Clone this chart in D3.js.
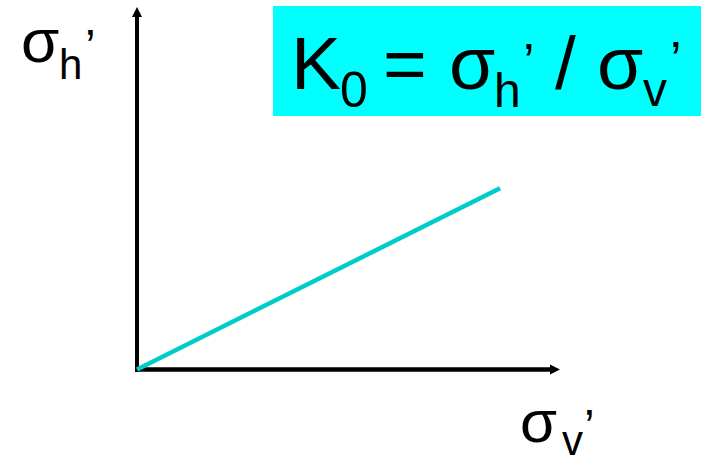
<!DOCTYPE html>
<html>
<head>
<meta charset="utf-8">
<script src="https://cdn.jsdelivr.net/npm/d3@7"></script>
<style>
    body { margin: 0; background: white; }
    text { font-family: "Liberation Sans", Arial, sans-serif; fill: black; }
</style>
</head>
<body>
<div id="canvas"></div>
<script>
"use strict"

let svgWidth = 701
let svgHeight = 457

// the K0 line: vertical effective stress vs horizontal effective stress
let sigmaV = [0, 100]
let sigmaH = [0, 50]

// how far each axis runs (same units as the stresses)
let xAxisMax = 116.5
let yAxisMax = 100

let lineColor = "#00cccc"
let boxColor = "#00ffff"

let svg = d3.select("#canvas")
    .append("svg")
    .attr("width", svgWidth)
    .attr("height", svgHeight)

let xScale = d3.scaleLinear()
    .domain([0, xAxisMax])
    .range([137, 560])

let yScale = d3.scaleLinear()
    .domain([0, yAxisMax])
    .range([369.5, 7])

/* Axes with arrow heads */
svg.append("line")
    .attr("x1", xScale(0) - 2)
    .attr("y1", yScale(0))
    .attr("x2", xScale(xAxisMax) - 8)
    .attr("y2", yScale(0))
    .attr("stroke", "black")
    .attr("stroke-width", 4.5)

svg.append("path")
    .attr("d", `M${xScale(xAxisMax)},${yScale(0)} l-10,-5 l0,10 z`)
    .attr("fill", "black")

svg.append("line")
    .attr("x1", xScale(0))
    .attr("y1", yScale(0) + 2.5)
    .attr("x2", xScale(0))
    .attr("y2", yScale(yAxisMax) + 8)
    .attr("stroke", "black")
    .attr("stroke-width", 4)

svg.append("path")
    .attr("d", `M${xScale(0)},${yScale(yAxisMax)} l-5,10 l10,0 z`)
    .attr("fill", "black")

/* The K0 line */
let k0Line = d3.line()
    .x(function (value, i) { return xScale(sigmaV[i]); })
    .y(function (value, i) { return yScale(sigmaH[i]); })

svg.append("path")
    .datum(sigmaV)
    .attr("d", k0Line)
    .attr("fill", "none")
    .attr("stroke", lineColor)
    .attr("stroke-width", 4.5)

/* Axis labels */
let yLabel = svg.append("text")
yLabel.append("tspan").attr("x", 21).attr("y", 62).style("font-size", "62px").text("σ")
yLabel.append("tspan").attr("x", 59).attr("y", 79).style("font-size", "42px").text("h")
yLabel.append("tspan").attr("x", 85).attr("y", 63).style("font-size", "48px").text("’")

let xLabel = svg.append("text")
xLabel.append("tspan").attr("x", 520).attr("y", 442).style("font-size", "60px").text("σ")
xLabel.append("tspan").attr("x", 562).attr("y", 455).style("font-size", "42px").text("v")
xLabel.append("tspan").attr("x", 584).attr("y", 443).style("font-size", "48px").text("’")

/* Formula box */
svg.append("rect")
    .attr("x", 273)
    .attr("y", 6)
    .attr("width", svgWidth - 273)
    .attr("height", 110)
    .attr("fill", boxColor)

let formula = svg.append("text")
formula.append("tspan").attr("x", 291).attr("y", 89).style("font-size", "75px").text("K")
formula.append("tspan").attr("x", 340).attr("y", 107).style("font-size", "50px").text("0")
formula.append("tspan").attr("x", 383).attr("y", 89).style("font-size", "75px").text("=")
formula.append("tspan").attr("x", 449).attr("y", 89).style("font-size", "75px").text("σ")
formula.append("tspan").attr("x", 494).attr("y", 107).style("font-size", "48px").text("h")
formula.append("tspan").attr("x", 523).attr("y", 80).style("font-size", "52px").text("’")
formula.append("tspan").attr("x", 555).attr("y", 89).style("font-size", "75px").text("/")
formula.append("tspan").attr("x", 597).attr("y", 89).style("font-size", "75px").text("σ")
formula.append("tspan").attr("x", 643).attr("y", 106).style("font-size", "48px").text("v")
formula.append("tspan").attr("x", 670).attr("y", 78).style("font-size", "52px").text("’")
</script>
</body>
</html>
